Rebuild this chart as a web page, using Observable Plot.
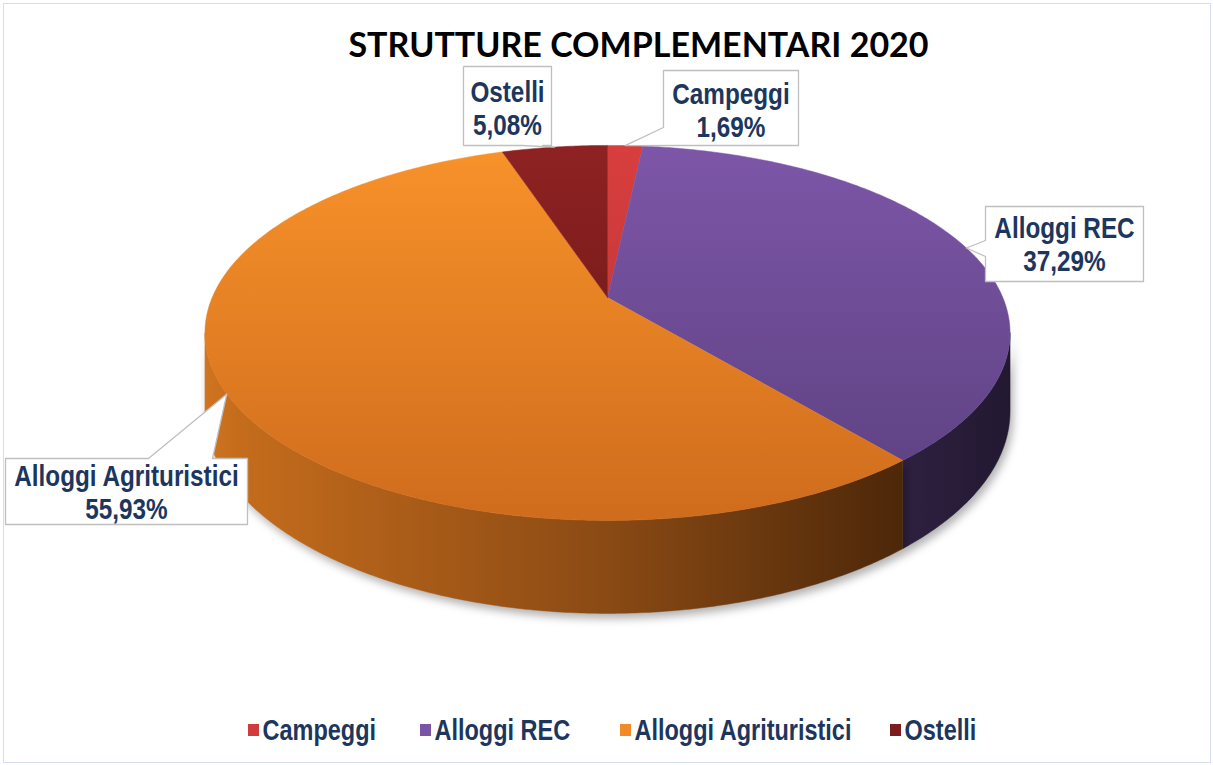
<!DOCTYPE html>
<html><head><meta charset="utf-8">
<script src="https://cdn.jsdelivr.net/npm/d3@7"></script>
<script src="https://cdn.jsdelivr.net/npm/@observablehq/plot@0.6"></script>
<style>
html,body{margin:0;padding:0;background:#fff;}
svg{display:block}
</style>
</head><body><div id="chart"></div>
<script>
// ---- data ----
const categories = ["Campeggi", "Alloggi REC", "Alloggi Agrituristici", "Ostelli"];
const values = [1.69, 37.29, 55.93, 5.08];
const valueLabels = ["1,69%", "37,29%", "55,93%", "5,08%"];
const chartTitle = "STRUTTURE COMPLEMENTARI 2020";

// ---- styles ----
const topColors = [["#d83e3e", "#b53131"], ["#7d56a8", "#5b407f"], ["#f8922a", "#cf6c1d"], ["#8e2222", "#631414"]];
const sideColors = [["#a02a2a", "#5a1414"], ["#2f2142", "#221830"], ["#d27622", "#4c2709"], ["#6a1818", "#3a0c0c"]];
const legendColors = ["#d23b3b", "#7a55a6", "#f28a28", "#7d1c1c"];
const textColor = "#1d365e";
const labelFont = "'Liberation Sans Narrow','Arial Narrow','Liberation Sans',sans-serif";
const narrow = 0.81;

// ---- layout (pixels) ----
const W = 1213, H = 765;
const cx = 607, cy = 297, A = 395.3, B = 180.8, k = 0.189, D = 75.4;
const boxes = [
  {x1: 663, x2: 798, y1: 70, y2: 145, wedge: "corner", b1: [680, 145], b2: [663, 127], dy: 2},
  {x1: 985, x2: 1143, y1: 206, y2: 281, wedge: "left", b1: [985, 256], b2: [985, 240], dy: 0},
  {x1: 5, x2: 247, y1: 458, y2: 524, wedge: "top", b1: [148, 458], b2: [212, 458], dy: 1},
  {x1: 463, x2: 551, y1: 66, y2: 145, wedge: "bottom", b1: [542, 145], b2: [522, 145], dy: 2}
];
const legendX = [248, 420, 620, 890];
const legendY = 730;

function proj(theta, z) {
  const u = Math.sin(theta), v = Math.cos(theta), w = 1 + k * v;
  return {x: cx + A * u / w, y: cy + (-B * v + D * z) / w};
}
function rim(a0, a1, z) {
  const n = Math.max(2, Math.ceil(Math.abs(a1 - a0) / (Math.PI / 360)));
  return d3.range(n + 1).map(i => proj(a0 + (a1 - a0) * i / n, z));
}

const arcs = d3.pie().sort(null).value(d => d)(values);
const visLo = Math.acos(-k), visHi = 2 * Math.PI - Math.acos(-k);

const topPolys = arcs.map(a => [{x: cx, y: cy}, ...rim(a.startAngle, a.endAngle, 0), {x: cx, y: cy}]);
const sidePolys = arcs.map(a => {
  const s = Math.max(a.startAngle, visLo), e = Math.min(a.endAngle, visHi);
  if (e <= s) return null;
  const t = rim(s, e, 0), b = rim(e, s, 1);
  return [...t, ...b, t[0]];
});
const tips = arcs.map(a => proj((a.startAngle + a.endAngle) / 2, 0));

function calloutPoly(bx, tip) {
  const {x1, x2, y1, y2} = bx;
  let pts;
  if (bx.wedge === "top") pts = [[x1, y1], bx.b1, [tip.x, tip.y], bx.b2, [x2, y1], [x2, y2], [x1, y2]];
  else if (bx.wedge === "left") pts = [[x1, y1], [x2, y1], [x2, y2], [x1, y2], bx.b1, [tip.x, tip.y], bx.b2];
  else if (bx.wedge === "bottom") pts = [[x1, y1], [x2, y1], [x2, y2], bx.b1, [tip.x, tip.y], bx.b2, [x1, y2]];
  else pts = [[x1, y1], [x2, y1], [x2, y2], bx.b1, [tip.x, tip.y], bx.b2];
  pts.push(pts[0]);
  return pts.map(([x, y]) => ({x, y}));
}

const marks = [];
const nSides = sidePolys.filter(Boolean).length;
sidePolys.forEach((p, i) => {
  if (p) marks.push(Plot.line(p, {x: "x", y: "y", fill: `url(#side${i})`, stroke: `url(#side${i})`, strokeWidth: 0.5, curve: "linear"}));
});
topPolys.forEach((p, i) => {
  marks.push(Plot.line(p, {x: "x", y: "y", fill: `url(#top${i})`, stroke: `url(#top${i})`, strokeWidth: 0.5, curve: "linear"}));
});
categories.forEach((c, i) => {
  marks.push(Plot.line(calloutPoly(boxes[i], tips[i]), {x: "x", y: "y", fill: "white", stroke: "#bfbfbf", strokeWidth: 1.3, curve: "linear"}));
});
const labelData = categories.map((c, i) => ({
  name: c, pct: valueLabels[i],
  x: (boxes[i].x1 + boxes[i].x2) / 2, y: (boxes[i].y1 + boxes[i].y2) / 2 + boxes[i].dy
}));
marks.push(Plot.text(labelData, {x: "x", y: d => d.y - 16, text: "name", fontSize: 30, fontWeight: "bold", fill: textColor, fontFamily: labelFont}));
marks.push(Plot.text(labelData, {x: "x", y: d => d.y + 17, text: "pct", fontSize: 30, fontWeight: "bold", fill: textColor, fontFamily: labelFont}));
marks.push(Plot.text([chartTitle], {x: () => 638, y: () => 46, text: d => d, fontSize: 34, fontWeight: "bold", fill: "#000", fontFamily: "Lato, 'Open Sans', sans-serif"}));
const legendData = categories.map((c, i) => ({name: c, x: legendX[i], color: legendColors[i]}));
marks.push(Plot.rect(legendData, {x1: "x", x2: d => d.x + 11, y1: legendY - 6, y2: legendY + 6, fill: "color"}));
marks.push(Plot.text(legendData, {x: d => d.x + 14, y: legendY, text: "name", textAnchor: "start", fontSize: 29, fontWeight: "bold", fill: textColor, fontFamily: labelFont}));
marks.push(Plot.frame({stroke: "#d5dfeb", inset: 3}));

const svg = Plot.plot({
  width: W, height: H, margin: 0,
  x: {domain: [0, W], range: [0, W], axis: null},
  y: {domain: [0, H], range: [0, H], axis: null},
  style: {background: "white", overflow: "visible"},
  marks
});

// gradients
const defs = d3.select(svg).insert("defs", ":first-child");
topColors.forEach(([c0, c1], i) => {
  const g = defs.append("linearGradient").attr("id", `top${i}`).attr("gradientUnits", "userSpaceOnUse")
    .attr("x1", 0).attr("x2", 0).attr("y1", 145).attr("y2", 520);
  g.append("stop").attr("offset", 0).attr("stop-color", c0);
  g.append("stop").attr("offset", 1).attr("stop-color", c1);
});
sideColors.forEach(([c0, c1], i) => {
  const g = defs.append("linearGradient").attr("id", `side${i}`).attr("gradientUnits", "userSpaceOnUse")
    .attr("x1", 205).attr("x2", 1010).attr("y1", 0).attr("y2", 0);
  if (i === 2) {
    g.append("stop").attr("offset", 0).attr("stop-color", "#cf7420");
    g.append("stop").attr("offset", 0.04).attr("stop-color", "#c56c1c");
    g.append("stop").attr("offset", 0.5).attr("stop-color", "#8a4a14");
    g.append("stop").attr("offset", 0.87).attr("stop-color", c1);
  } else if (i === 1) {
    g.append("stop").attr("offset", 0.86).attr("stop-color", c0);
    g.append("stop").attr("offset", 1).attr("stop-color", c1);
  } else {
    g.append("stop").attr("offset", 0).attr("stop-color", c0);
    g.append("stop").attr("offset", 1).attr("stop-color", c1);
  }
});
d3.select(svg).selectAll("g[aria-label=line]").filter((d, i) => i < nSides)
  .style("filter", "drop-shadow(3px 5px 4px rgba(0,0,0,0.3))");
// condense the label/legend text (Arial Narrow look)
d3.select(svg).selectAll("g[aria-label=text]")
  .filter(function() { return (this.getAttribute("font-family") || "").includes("Narrow"); })
  .selectAll("text")
  .attr("transform", function() { return (this.getAttribute("transform") || "") + ` scale(${narrow},1)`; });

document.getElementById("chart").appendChild(svg);
</script>
</body></html>
